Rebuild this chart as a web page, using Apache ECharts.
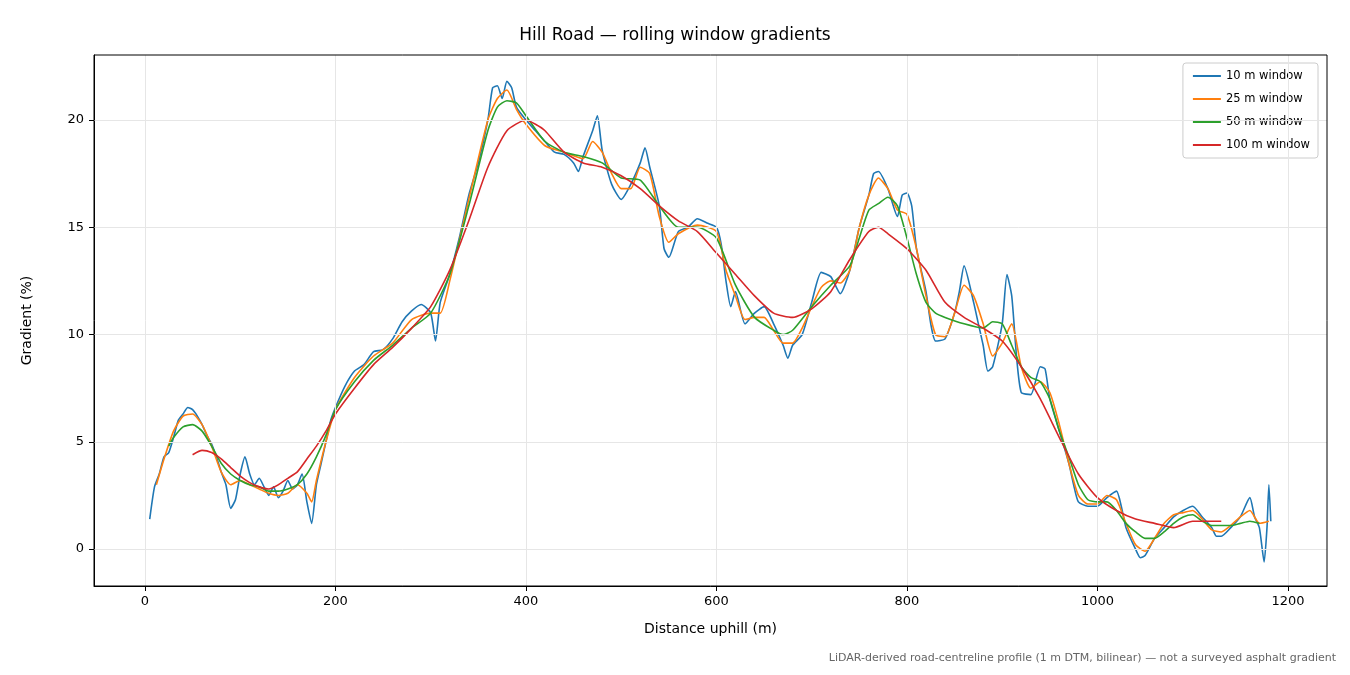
<!DOCTYPE html>
<html>
<head>
<meta charset="utf-8">
<script src="https://cdn.jsdelivr.net/npm/echarts@6/dist/echarts.min.js"></script>
<style>html,body{margin:0;padding:0;background:#fff}#chart{width:1350px;height:675px}</style>
</head>
<body>
<div id="chart"></div>
<script>
// gradient series, [distance m, gradient %]
var win10 = [[5,1.4],[10,2.9],[15,3.5],[20,4.3],[25,4.5],[30,5.2],[35,6.0],[40,6.3],[45,6.6],[50,6.5],[55,6.2],[60,5.8],[65,5.3],[70,4.9],[75,4.3],[80,3.6],[85,3.0],[90,1.9],[95,2.3],[100,3.5],[105,4.3],[110,3.5],[115,3.0],[120,3.3],[125,2.9],[130,2.5],[135,2.9],[140,2.4],[145,2.7],[150,3.2],[155,2.8],[160,3.0],[165,3.5],[170,2.2],[175,1.2],[180,3.0],[185,4.0],[190,5.0],[195,6.0],[200,6.6],[210,7.6],[220,8.3],[230,8.6],[240,9.2],[250,9.3],[260,9.8],[270,10.6],[280,11.1],[290,11.4],[300,11.0],[305,9.7],[310,11.5],[320,12.8],[330,14.5],[340,16.5],[350,18.0],[360,20.0],[365,21.5],[370,21.6],[375,21.0],[380,21.8],[385,21.5],[390,20.6],[400,20.0],[410,19.5],[420,19.0],[430,18.5],[440,18.4],[450,18.0],[455,17.6],[460,18.3],[470,19.5],[475,20.2],[480,18.6],[490,17.0],[500,16.3],[510,17.0],[520,18.0],[525,18.7],[530,17.8],[540,16.0],[545,14.0],[550,13.6],[560,14.8],[570,15.0],[580,15.4],[590,15.2],[600,15.0],[605,14.2],[610,12.5],[615,11.3],[620,12.0],[630,10.5],[640,11.0],[650,11.3],[660,10.5],[670,9.5],[675,8.9],[680,9.5],[690,10.0],[700,11.5],[710,12.9],[720,12.7],[730,11.9],[740,13.0],[750,15.0],[760,16.5],[765,17.5],[770,17.6],[780,16.8],[790,15.5],[795,16.5],[800,16.6],[805,16.0],[810,14.0],[820,12.0],[825,10.5],[830,9.7],[840,9.8],[850,11.0],[855,12.0],[860,13.2],[870,11.5],[875,10.5],[880,9.5],[885,8.3],[890,8.5],[900,10.5],[905,12.8],[910,11.8],[915,9.0],[920,7.3],[930,7.2],[940,8.5],[945,8.4],[950,7.0],[960,5.5],[970,4.0],[975,3.0],[980,2.2],[990,2.0],[1000,2.0],[1010,2.4],[1020,2.7],[1025,2.0],[1030,1.0],[1040,0.0],[1045,-0.4],[1050,-0.3],[1060,0.5],[1070,1.0],[1080,1.5],[1090,1.8],[1100,2.0],[1110,1.5],[1120,1.0],[1125,0.6],[1130,0.6],[1140,1.0],[1150,1.5],[1160,2.4],[1165,1.5],[1170,1.0],[1175,-0.6],[1178,1.0],[1180,3.0],[1182,1.3]];
var win25 = [[12,3.0],[20,4.2],[30,5.5],[40,6.2],[50,6.3],[60,5.8],[70,4.8],[80,3.6],[90,3.0],[100,3.2],[110,3.0],[120,2.8],[130,2.6],[140,2.5],[150,2.6],[160,3.0],[170,2.6],[175,2.2],[180,3.2],[190,5.0],[200,6.5],[220,8.0],[240,9.0],[260,9.6],[280,10.7],[300,11.0],[310,11.0],[320,12.5],[340,16.3],[360,20.0],[370,21.0],[380,21.4],[390,20.5],[400,19.8],[420,18.8],[440,18.5],[460,18.2],[470,19.0],[480,18.5],[490,17.5],[500,16.8],[510,16.8],[520,17.8],[530,17.5],[540,15.5],[550,14.3],[560,14.7],[580,15.1],[600,14.8],[610,13.0],[620,11.8],[630,10.7],[640,10.8],[650,10.8],[660,10.2],[670,9.6],[680,9.6],[690,10.3],[700,11.3],[710,12.2],[720,12.5],[730,12.4],[740,13.0],[750,15.0],[760,16.5],[770,17.3],[780,16.8],[790,15.8],[800,15.6],[810,14.0],[820,11.8],[830,10.0],[840,9.9],[850,11.0],[860,12.3],[870,11.8],[880,10.5],[890,9.0],[900,9.6],[910,10.5],[920,8.5],[930,7.5],[940,7.8],[950,7.3],[960,5.8],[970,4.0],[980,2.5],[990,2.1],[1000,2.1],[1010,2.5],[1020,2.3],[1030,1.2],[1040,0.2],[1050,-0.1],[1060,0.5],[1070,1.2],[1080,1.6],[1090,1.7],[1100,1.8],[1110,1.4],[1120,0.9],[1130,0.8],[1140,1.1],[1150,1.5],[1160,1.8],[1170,1.2],[1180,1.3]];
var win50 = [[25,4.8],[30,5.2],[40,5.7],[50,5.8],[60,5.5],[70,4.8],[80,4.0],[90,3.5],[100,3.2],[110,3.0],[120,2.9],[130,2.7],[140,2.7],[150,2.8],[160,3.0],[170,3.5],[180,4.3],[190,5.3],[200,6.5],[220,7.8],[240,8.8],[260,9.5],[280,10.3],[300,11.0],[320,12.8],[340,16.0],[360,19.5],[370,20.6],[380,20.9],[390,20.8],[400,20.2],[420,19.0],[440,18.5],[460,18.3],[480,18.0],[500,17.3],[520,17.2],[540,16.0],[560,15.0],[580,15.0],[600,14.5],[620,12.3],[640,10.8],[660,10.2],[670,10.0],[680,10.2],[700,11.3],[720,12.3],[740,13.2],[750,14.5],[760,15.8],[770,16.1],[780,16.4],[790,16.0],[800,14.5],[810,12.8],[820,11.5],[830,11.0],[840,10.8],[860,10.5],[880,10.3],[890,10.6],[900,10.5],[910,9.5],[920,8.5],[930,8.0],[940,7.8],[950,7.0],[960,5.5],[970,4.3],[980,3.0],[990,2.3],[1000,2.2],[1010,2.2],[1020,1.8],[1030,1.2],[1040,0.8],[1050,0.5],[1060,0.5],[1070,0.8],[1080,1.2],[1090,1.5],[1100,1.6],[1110,1.3],[1120,1.1],[1140,1.1],[1150,1.2],[1160,1.3],[1170,1.2]];
var win100 = [[50,4.4],[60,4.6],[70,4.5],[80,4.2],[90,3.8],[100,3.4],[110,3.1],[120,2.9],[130,2.8],[140,3.0],[150,3.3],[160,3.6],[170,4.2],[180,4.8],[190,5.5],[200,6.3],[220,7.5],[240,8.6],[260,9.4],[280,10.3],[300,11.3],[320,13.0],[340,15.3],[360,17.8],[380,19.5],[400,20.0],[410,19.8],[420,19.5],[440,18.5],[460,18.0],[480,17.8],[500,17.4],[520,16.8],[540,16.0],[560,15.3],[580,14.8],[600,13.8],[620,12.8],[640,11.8],[660,11.0],[680,10.8],[700,11.2],[720,12.0],[740,13.5],[760,14.8],[770,15.0],[780,14.7],[800,14.0],[820,13.0],[840,11.5],[860,10.8],[880,10.3],[900,9.7],[920,8.5],[940,7.0],[960,5.2],[980,3.5],[1000,2.4],[1020,1.8],[1040,1.4],[1060,1.2],[1080,1.0],[1100,1.3],[1120,1.3],[1130,1.3]];
var xTicks = [0, 200, 400, 600, 800, 1000, 1200];
var yTicks = [0, 5, 10, 15, 20];

var myChart = echarts.init(document.getElementById('chart'));
var font = 'DejaVu Sans';
function line(name, data, color) {
    return {name: name, type: 'line', data: data, showSymbol: false, symbol: 'none', smooth: 0.2,
        lineStyle: {width: 1.6, color: color}, itemStyle: {color: color}, z: 3};
}
var grid = [];
xTicks.forEach(function (v) { grid.push({xAxis: v}); });
yTicks.forEach(function (v) { grid.push({yAxis: v}); });

var option = {
    animation: false,
    textStyle: {fontFamily: font},
    title: {text: 'Hill Road — rolling window gradients', left: 'center', top: 22,
        textStyle: {fontFamily: font, fontSize: 17, fontWeight: 'normal', color: '#000'}},
    legend: {orient: 'vertical', right: 32, top: 63, itemWidth: 28, itemHeight: 2, itemGap: 11,
        icon: 'rect', borderColor: '#ccc', borderWidth: 1, borderRadius: 3, padding: [7, 8, 7, 10],
        textStyle: {fontFamily: font, fontSize: 11.5, color: '#000'},
        data: ['10 m window', '25 m window', '50 m window', '100 m window']},
    grid: {left: 94, right: 23, top: 55, bottom: 89},
    xAxis: {type: 'value', min: -53.5, max: 1241,
        name: 'Distance uphill (m)', nameLocation: 'middle', nameGap: 36,
        nameTextStyle: {fontFamily: font, fontSize: 14, color: '#000'},
        axisLine: {onZero: false, lineStyle: {color: '#000'}},
        axisTick: {customValues: xTicks, length: 5, lineStyle: {color: '#000'}},
        axisLabel: {customValues: xTicks, color: '#000', fontSize: 13, margin: 9,
            formatter: function (v) { return String(v); }},
        splitLine: {show: false}},
    yAxis: {type: 'value', min: -1.72, max: 23.03,
        name: 'Gradient (%)', nameLocation: 'middle', nameGap: 60,
        nameTextStyle: {fontFamily: font, fontSize: 14, color: '#000'},
        axisLine: {show: true, onZero: false, lineStyle: {color: '#000'}},
        axisTick: {customValues: yTicks, length: 5, lineStyle: {color: '#000'}},
        axisLabel: {customValues: yTicks, color: '#000', fontSize: 13, margin: 10},
        splitLine: {show: false}},
    series: [
        line('10 m window', win10, '#1f77b4'),
        line('25 m window', win25, '#ff7f0e'),
        line('50 m window', win50, '#2ca02c'),
        line('100 m window', win100, '#d62728'),
        {type: 'line', data: [], silent: true, z: 1,
            markLine: {silent: true, symbol: 'none', label: {show: false},
                lineStyle: {color: '#e6e6e6', type: 'solid', width: 1}, data: grid}}
    ],
    graphic: [
        {type: 'rect', shape: {x: 94, y: 55, width: 1233, height: 531}, silent: true, z: 10,
            style: {fill: 'none', stroke: '#000', lineWidth: 1}},
        {type: 'text', right: 14, top: 653, z: 10,
            style: {text: 'LiDAR-derived road-centreline profile (1 m DTM, bilinear) — not a surveyed asphalt gradient',
                fill: '#666', fontSize: 11, fontFamily: font}}
    ]
};
myChart.setOption(option);
</script>
</body>
</html>
